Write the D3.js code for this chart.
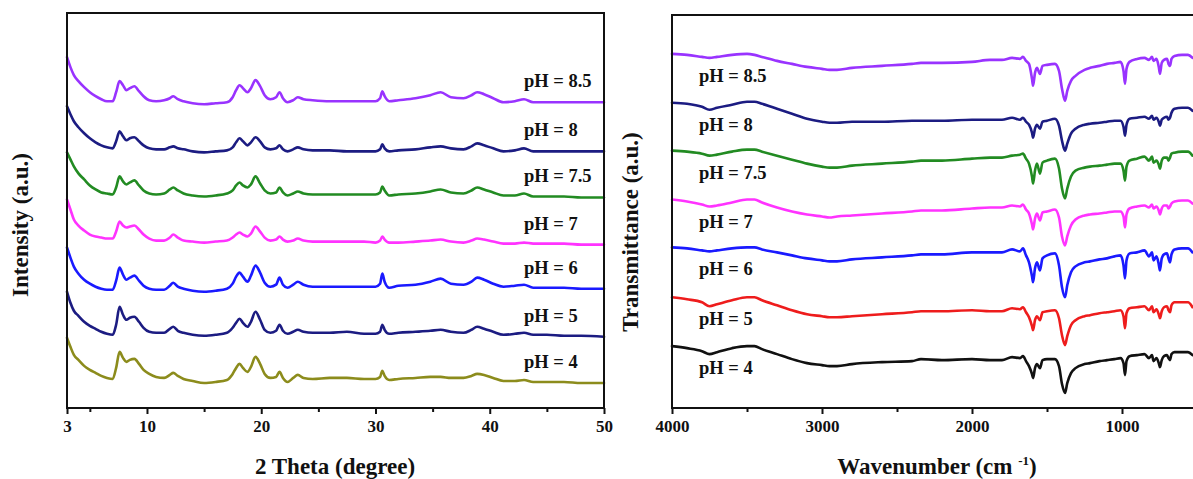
<!DOCTYPE html>
<html>
<head>
<meta charset="utf-8">
<script src="https://cdn.jsdelivr.net/npm/d3@7"></script>
<style>
  html, body { margin: 0; padding: 0; background: #fff; }
  svg { display: block; }
  text { font-family: "Liberation Serif", "Times New Roman", serif; font-weight: bold; fill: #111; }
</style>
</head>
<body>
<svg id="chart" width="1193" height="479"></svg>
<script>
// ---------- XRD patterns (2θ in degrees, stacked intensity in a.u.) ----------
const xrdAngles = [
  3.0, 3.3, 3.6, 4.0, 4.5, 5.0, 5.5, 6.0, 6.5, 7.0,
  7.3, 7.6, 7.9, 8.2, 8.5, 8.9, 9.3, 9.7, 10.2, 10.8,
  11.5, 12.0, 12.3, 12.7, 13.2, 14.0, 15.0, 16.0, 17.0, 17.5,
  17.8, 18.1, 18.4, 18.8, 19.1, 19.5, 19.9, 20.3, 20.8, 21.3,
  21.6, 21.9, 22.3, 22.8, 23.2, 23.7, 24.5, 26.0, 27.5, 29.0,
  30.0, 30.4, 30.6, 30.8, 31.2, 32.0, 33.5, 34.8, 35.7, 36.6,
  37.7, 38.4, 38.9, 39.5, 40.3, 41.2, 42.2, 43.0, 43.8, 45.0,
  46.5, 48.0, 50.0
];
const xrdPH85 = [
  350, 340, 332, 326, 320, 315, 311, 308, 306, 306,
  315, 326, 322, 317, 319, 321, 316, 311, 307, 306,
  307, 309, 311, 308, 306, 304, 303, 304, 305, 310,
  317, 322, 319, 315, 319, 327, 321, 312, 308, 310,
  315, 309, 305, 307, 310, 308, 307, 306, 306, 306,
  306, 309, 316, 311, 306, 307, 309, 312, 315, 310,
  309, 312, 315, 313, 309, 305, 306, 308, 305, 305,
  305, 305, 305
];
const xrdPH8 = [
  301, 293, 286, 280, 274, 269, 265, 262, 260, 259,
  266, 276, 271, 267, 269, 270, 266, 262, 259, 258,
  258, 260, 261, 259, 258, 256, 255, 256, 257, 260,
  265, 269, 266, 262, 265, 270, 266, 260, 258, 259,
  262, 258, 256, 258, 260, 258, 257, 257, 256, 256,
  256, 258, 263, 259, 256, 257, 258, 260, 261, 259,
  258, 261, 264, 262, 259, 256, 257, 259, 256, 256,
  256, 256, 256
];
const xrdPH75 = [
  255, 248, 241, 234, 228, 222, 218, 215, 214, 213,
  220, 231, 226, 223, 225, 227, 222, 217, 214, 213,
  214, 218, 220, 217, 214, 212, 211, 212, 214, 217,
  222, 225, 222, 220, 223, 231, 224, 217, 214, 215,
  220, 215, 212, 214, 216, 214, 213, 213, 213, 213,
  213, 215, 221, 217, 212, 213, 214, 216, 218, 215,
  214, 217, 220, 218, 215, 212, 212, 214, 211, 211,
  211, 210, 210
];
const xrdPH7 = [
  208, 198, 188, 182, 177, 173, 171, 170, 169, 169,
  176, 186, 182, 180, 181, 182, 178, 173, 169, 167,
  167, 170, 173, 170, 167, 166, 165, 166, 167, 170,
  173, 175, 173, 171, 174, 181, 176, 170, 167, 168,
  171, 168, 166, 167, 169, 167, 166, 166, 166, 166,
  165, 167, 171, 168, 165, 165, 166, 167, 168, 166,
  165, 167, 169, 168, 166, 164, 164, 165, 164, 164,
  164, 163, 163
];
const xrdPH6 = [
  160, 150, 141, 134, 128, 124, 121, 119, 118, 118,
  127, 140, 133, 128, 130, 132, 127, 122, 119, 118,
  118, 122, 125, 121, 119, 117, 116, 117, 119, 124,
  131, 135, 131, 126, 132, 142, 135, 125, 121, 123,
  130, 123, 120, 123, 126, 123, 121, 121, 121, 121,
  121, 124, 134, 126, 120, 122, 123, 126, 129, 124,
  123, 126, 130, 128, 124, 121, 122, 123, 120, 120,
  120, 119, 119
];
const xrdPH5 = [
  116, 105, 97, 92, 86, 82, 79, 76, 74, 73,
  83, 101, 93, 88, 90, 91, 86, 80, 76, 75,
  75, 79, 81, 77, 75, 73, 72, 73, 75, 80,
  85, 89, 85, 81, 86, 96, 88, 78, 75, 77,
  83, 77, 74, 76, 78, 76, 75, 75, 76, 74,
  74, 76, 83, 78, 74, 75, 76, 77, 78, 76,
  75, 78, 81, 79, 76, 73, 74, 75, 73, 73,
  72, 72, 71
];
const xrdPH4 = [
  70, 61, 53, 48, 42, 38, 35, 32, 30, 29,
  40, 56, 50, 46, 48, 49, 44, 38, 34, 31,
  30, 33, 35, 32, 29, 27, 25, 26, 28, 34,
  40, 44, 40, 36, 41, 51, 44, 34, 30, 31,
  36, 30, 26, 30, 33, 30, 29, 30, 30, 29,
  29, 31, 37, 32, 28, 29, 30, 31, 31, 30,
  30, 32, 34, 33, 30, 27, 27, 28, 26, 26,
  26, 25, 25
];

// ---------- FTIR spectra (wavenumber in cm-1, stacked transmittance in a.u.) ----------
const irWavenumbers = [
  4000, 3900, 3800, 3750, 3700, 3600, 3500, 3450, 3400, 3300,
  3200, 3100, 3000, 2950, 2900, 2800, 2600, 2400, 2340, 2200,
  2000, 1880, 1800, 1733, 1680, 1660, 1640, 1620, 1600, 1593,
  1580, 1567, 1547, 1530, 1500, 1447, 1420, 1400, 1380, 1365,
  1340, 1310, 1250, 1213, 1150, 1100, 1050, 1010, 990, 980,
  970, 950, 900, 850, 820, 800, 790, 770, 755, 747,
  735, 720, 700, 690, 680, 670, 650, 600, 560, 530
];
const irPH85 = [
  355, 354, 352, 351, 352, 354, 355, 354, 352, 348,
  345, 342, 340, 339, 339, 341, 343, 345, 346, 346,
  347, 349, 349, 351, 350, 352, 348, 345, 330, 323,
  336, 341, 335, 343, 344, 345, 338, 320, 308, 318,
  328, 333, 339, 341, 343, 345, 346, 347, 338, 325,
  340, 347, 350, 351, 349, 352, 348, 350, 342, 335,
  346, 349, 350, 345, 343, 350, 353, 354, 354, 351
];
const irPH8 = [
  306, 305, 302, 299, 301, 304, 307, 307, 305, 300,
  295, 290, 287, 286, 286, 287, 287, 288, 288, 288,
  289, 289, 289, 291, 289, 291, 287, 284, 276, 271,
  280, 284, 280, 287, 288, 290, 283, 268, 258, 265,
  275, 280, 284, 285, 286, 287, 288, 288, 282, 273,
  284, 290, 291, 292, 290, 293, 289, 291, 287, 283,
  289, 291, 292, 289, 291, 296, 300, 301, 301, 298
];
const irPH75 = [
  258, 257, 255, 253, 254, 257, 259, 259, 257, 253,
  249, 245, 242, 241, 241, 243, 245, 247, 248, 248,
  250, 251, 251, 253, 254, 255, 250, 245, 232, 225,
  238, 245, 235, 246, 248, 250, 240, 220, 210, 220,
  232, 238, 241, 242, 243, 244, 245, 245, 238, 228,
  242, 248, 250, 252, 248, 252, 246, 248, 244, 240,
  248, 251, 251, 248, 251, 255, 256, 257, 257, 253
];
const irPH7 = [
  209, 207, 204, 202, 203, 206, 209, 209, 206, 201,
  197, 194, 192, 191, 192, 193, 195, 197, 198, 198,
  200, 201, 201, 203, 202, 204, 199, 195, 184, 179,
  190, 195, 188, 196, 197, 199, 191, 172, 163, 172,
  183, 189, 193, 194, 195, 196, 197, 197, 192, 181,
  194, 200, 202, 203, 201, 204, 200, 202, 198, 194,
  200, 203, 203, 200, 202, 205, 207, 208, 208, 205
];
const irPH6 = [
  161, 160, 158, 157, 158, 160, 161, 161, 159, 156,
  153, 150, 148, 147, 147, 149, 151, 153, 154, 154,
  156, 156, 156, 159, 157, 160, 153, 146, 132, 126,
  140, 146, 138, 150, 153, 155, 143, 121, 111, 123,
  136, 142, 146, 147, 149, 150, 152, 153, 143, 130,
  148, 155, 156, 158, 152, 156, 148, 152, 144, 138,
  150, 154, 155, 150, 146, 154, 159, 160, 160, 156
];
const irPH5 = [
  111, 109, 106, 102, 104, 108, 111, 111, 108, 103,
  98, 94, 92, 91, 91, 92, 94, 96, 97, 97,
  98, 97, 97, 100, 99, 101, 96, 91, 82, 78,
  88, 92, 88, 96, 97, 98, 90, 73, 63, 72,
  83, 88, 92, 93, 95, 96, 97, 98, 92, 80,
  95, 100, 101, 102, 98, 102, 96, 99, 94, 90,
  97, 101, 102, 98, 96, 103, 106, 106, 106, 101
];
const irPH4 = [
  62, 60, 57, 54, 56, 60, 62, 62, 59, 54,
  49, 45, 43, 42, 42, 44, 46, 47, 49, 48,
  49, 48, 48, 51, 50, 52, 47, 42, 34, 30,
  40, 44, 40, 48, 49, 49, 42, 24, 15, 25,
  35, 40, 44, 45, 47, 48, 49, 50, 45, 33,
  47, 52, 53, 54, 50, 53, 47, 50, 45, 41,
  48, 52, 53, 50, 48, 54, 56, 56, 56, 53
];

// ---------- series labels and tick values ----------
const phLabels = ["pH = 8.5", "pH = 8", "pH = 7.5", "pH = 7", "pH = 6", "pH = 5", "pH = 4"];
const xrdSeries = [xrdPH85, xrdPH8, xrdPH75, xrdPH7, xrdPH6, xrdPH5, xrdPH4];
const irSeries = [irPH85, irPH8, irPH75, irPH7, irPH6, irPH5, irPH4];
const xrdTicks = [3, 10, 20, 30, 40, 50];
const xrdMinorTicks = [5, 15, 25, 35, 45];
const irTicks = [4000, 3000, 2000, 1000];
const irMinorTicks = [3500, 2500, 1500, 500];

// line colours, top to bottom
const xrdColors = ["#9933ff", "#1c1c82", "#228b22", "#ff33ff", "#1a1aff", "#1c1c82", "#8c8c1c"];
const irColors  = ["#9933ff", "#1c1c82", "#228b22", "#ff33ff", "#1a1aff", "#ee1c1c", "#111111"];

const svg = d3.select("#chart");

function drawPanel(cfg) {
  const g = svg.append("g");
  const x = d3.scaleLinear().domain(cfg.xDomain).range([cfg.left, cfg.right]);
  const y = d3.scaleLinear().domain([0, 394]).range([cfg.bottom, cfg.top]);

  const line = d3.line()
    .x((d, i) => x(cfg.xs[i]))
    .y(d => y(d))
    .curve(d3.curveMonotoneX);

  cfg.series.forEach((vals, k) => {
    g.append("path")
      .attr("d", line(vals))
      .attr("fill", "none")
      .attr("stroke", cfg.colors[k])
      .attr("stroke-width", 2.6)
      .attr("stroke-linejoin", "round")
      .attr("stroke-linecap", "round");
  });

  // series labels
  cfg.series.forEach((vals, k) => {
    g.append("text")
      .attr("x", cfg.labelX)
      .attr("y", cfg.labelY(y, vals))
      .attr("font-size", 18.5)
      .text(phLabels[k]);
  });

  // frame
  g.append("rect")
    .attr("x", cfg.left).attr("y", cfg.top)
    .attr("width", cfg.right - cfg.left).attr("height", cfg.bottom - cfg.top)
    .attr("fill", "none").attr("stroke", "#111").attr("stroke-width", 2);

  // bottom axis: labelled major ticks plus short minor ticks
  const axis = g.append("g").attr("transform", `translate(0,${cfg.bottom})`)
    .call(d3.axisBottom(x).tickValues(cfg.ticks).tickSize(6).tickSizeOuter(0).tickPadding(6)
      .tickFormat(d3.format("d")));
  axis.select(".domain").remove();
  axis.selectAll("line").attr("stroke", "#111").attr("stroke-width", 2);
  axis.selectAll("text").attr("font-size", 17).attr("font-family", "Liberation Serif")
    .attr("font-weight", "bold").attr("fill", "#111");

  const minor = g.append("g").attr("transform", `translate(0,${cfg.bottom})`)
    .call(d3.axisBottom(x).tickValues(cfg.minorTicks).tickSize(4).tickSizeOuter(0).tickFormat(""));
  minor.select(".domain").remove();
  minor.selectAll("line").attr("stroke", "#111").attr("stroke-width", 2);

  // axis titles
  g.append("text")
    .attr("x", cfg.xTitleX).attr("y", 474)
    .attr("text-anchor", "middle").attr("font-size", 23)
    .call(cfg.xTitle);
  g.append("text")
    .attr("transform", `translate(${cfg.yTitleX},${cfg.yTitleY}) rotate(-90)`)
    .attr("text-anchor", "middle").attr("font-size", 23)
    .text(cfg.yTitle);
}

drawPanel({
  xs: xrdAngles, series: xrdSeries, colors: xrdColors,
  xDomain: [3, 50], left: 67, right: 604, top: 13, bottom: 408,
  ticks: xrdTicks, minorTicks: xrdMinorTicks,
  labelX: 524,
  labelY: (y, vals) => y(vals[vals.length - 1]) - 15,
  xTitleX: 335,
  xTitle: t => t.text("2 Theta (degree)"),
  yTitleX: 28, yTitleY: 225, yTitle: "Intensity (a.u.)"
});

drawPanel({
  xs: irWavenumbers, series: irSeries, colors: irColors,
  xDomain: [4000, 400], left: 672, right: 1212, top: 15, bottom: 408,
  ticks: irTicks, minorTicks: irMinorTicks,
  labelX: 699,
  labelY: (y, vals) => y(vals[0]) + 28,
  xTitleX: 937,
  xTitle: t => {
    t.append("tspan").text("Wavenumber (cm ");
    t.append("tspan").attr("dy", -9).attr("font-size", 13).text("-1");
    t.append("tspan").attr("dy", 9).text(")");
  },
  yTitleX: 638, yTitleY: 232, yTitle: "Transmittance (a.u.)"
});
</script>
</body>
</html>
